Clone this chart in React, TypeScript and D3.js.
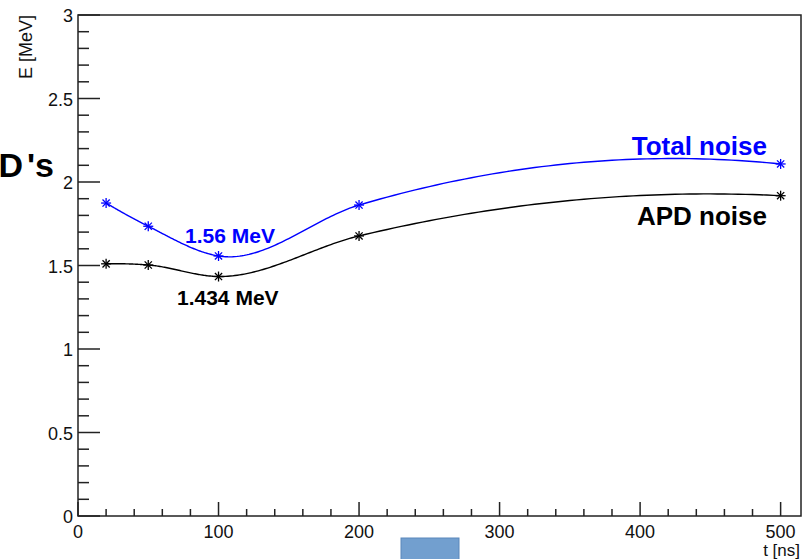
import React from "react";
import * as d3 from "d3";

const times = [20, 50, 100, 200, 500];
const totalNoise = [1.874, 1.735, 1.557, 1.862, 2.108];
const apdNoise = [1.51, 1.503, 1.434, 1.677, 1.918];
const xTickValues = [0, 100, 200, 300, 400, 500];
const xTickLabels = ["0", "100", "200", "300", "400", "500"];
const yTickValues = [0, 0.5, 1, 1.5, 2, 2.5, 3];
const yTickLabels = ["0", "0.5", "1", "1.5", "2", "2.5", "3"];
const seriesNames = ["Total noise", "APD noise"];
const minLabels = ["1.56 MeV", "1.434 MeV"];

const W = 803;
const H = 559;
const left = 78;
const right = 801;
const top = 15;
const bottom = 516;
const FONT = "'Liberation Sans', Arial, Helvetica, sans-serif";

// Cubic Hermite interpolation with local parabolic (Bessel) slopes, in data space.
function smoothData(xs: number[], vs: number[], samples = 60): [number, number][] {
  const n = xs.length;
  const h = d3.range(n - 1).map((i) => xs[i + 1] - xs[i]);
  const d = d3.range(n - 1).map((i) => (vs[i + 1] - vs[i]) / h[i]);
  const m: number[] = new Array(n).fill(0);
  m[0] = d[0] - ((d[1] - d[0]) * h[0]) / (h[0] + h[1]);
  m[n - 1] = d[n - 2] + ((d[n - 2] - d[n - 3]) * h[n - 2]) / (h[n - 3] + h[n - 2]);
  for (let i = 1; i < n - 1; i++) {
    m[i] = d[i - 1] + ((d[i] - d[i - 1]) * h[i - 1]) / (h[i - 1] + h[i]);
  }
  const out: [number, number][] = [];
  for (let i = 0; i < n - 1; i++) {
    for (let j = 0; j < samples; j++) {
      const t = j / samples;
      const t2 = t * t, t3 = t2 * t;
      const h00 = 2 * t3 - 3 * t2 + 1, h10 = t3 - 2 * t2 + t, h01 = -2 * t3 + 3 * t2, h11 = t3 - t2;
      out.push([
        xs[i] + t * h[i],
        h00 * vs[i] + h10 * h[i] * m[i] + h01 * vs[i + 1] + h11 * h[i] * m[i + 1],
      ]);
    }
  }
  out.push([xs[n - 1], vs[n - 1]]);
  return out;
}

function Star({ x, y, color }: { x: number; y: number; color: string }) {
  const r = 5;
  const d = 3.6;
  return (
    <g stroke={color} strokeWidth={1.3}>
      <line x1={x - r} y1={y} x2={x + r} y2={y} />
      <line x1={x} y1={y - r} x2={x} y2={y + r} />
      <line x1={x - d} y1={y - d} x2={x + d} y2={y + d} />
      <line x1={x - d} y1={y + d} x2={x + d} y2={y - d} />
    </g>
  );
}

export default function App() {
  const x = d3.scaleLinear().domain([0, 514.5]).range([left, right]);
  const y = d3.scaleLinear().domain([0, 3]).range([bottom, top]);

  const line = d3
    .line<[number, number]>()
    .x((p) => x(p[0]))
    .y((p) => y(p[1]));
  const curvePath = (vals: number[]) => line(smoothData(times, vals)) || "";

  const xMinor = d3.range(0, 501, 20).filter((v) => v % 100 !== 0);
  const yMinor = d3.range(0, 31, 1).map((v) => v / 10).filter((v) => Math.round(v * 10) % 5 !== 0);

  return (
    <svg
      width={W}
      height={H}
      style={{ position: "absolute", left: 0, top: 0, background: "#fff" }}
      fontFamily={FONT}
    >
      <rect x={0} y={0} width={W} height={H} fill="#fff" />
      <rect x={left} y={top} width={right - left} height={bottom - top} fill="none" stroke="#222" strokeWidth={1.5} />

      {yTickValues.map((v) => (
        <line key={"yt" + v} x1={left} x2={left + 22} y1={y(v)} y2={y(v)} stroke="#222" strokeWidth={1.5} />
      ))}
      {yMinor.map((v) => (
        <line key={"ym" + v} x1={left} x2={left + 11} y1={y(v)} y2={y(v)} stroke="#222" strokeWidth={1.5} />
      ))}
      {yTickValues.map((v, i) => (
        <text key={"yl" + v} x={left - 5} y={y(v) + 7} textAnchor="end" fontSize={18} fill="#111">
          {yTickLabels[i]}
        </text>
      ))}

      {xTickValues.map((v) => (
        <line key={"xt" + v} x1={x(v)} x2={x(v)} y1={bottom} y2={bottom - 14} stroke="#222" strokeWidth={1.5} />
      ))}
      {xMinor.map((v) => (
        <line key={"xm" + v} x1={x(v)} x2={x(v)} y1={bottom} y2={bottom - 7} stroke="#222" strokeWidth={1.5} />
      ))}
      {xTickValues.map((v, i) => (
        <text key={"xl" + v} x={x(v)} y={bottom + 22} textAnchor="middle" fontSize={18} fill="#111">
          {xTickLabels[i]}
        </text>
      ))}

      <text transform={`translate(32,${top}) rotate(-90)`} textAnchor="end" fontSize={18} fill="#111">
        E [MeV]
      </text>
      <text x={800} y={556} textAnchor="end" fontSize={17} fill="#111">
        t [ns]
      </text>

      <path d={curvePath(totalNoise)} fill="none" stroke="#0000ff" strokeWidth={1.4} />
      <path d={curvePath(apdNoise)} fill="none" stroke="#000" strokeWidth={1.4} />
      {times.map((t, i) => (
        <Star key={"s1" + t} x={x(t)} y={y(totalNoise[i])} color="#0000ff" />
      ))}
      {times.map((t, i) => (
        <Star key={"s2" + t} x={x(t)} y={y(apdNoise[i])} color="#000" />
      ))}

      <text x={767} y={155} textAnchor="end" fontSize={26} fontWeight="bold" fill="#0000ff">
        {seriesNames[0]}
      </text>
      <text x={767} y={225} textAnchor="end" fontSize={26} fontWeight="bold" fill="#000">
        {seriesNames[1]}
      </text>
      <text x={185} y={243} fontSize={21} fontWeight="bold" fill="#0000ff">
        {minLabels[0]}
      </text>
      <text x={177} y={305} fontSize={21} fontWeight="bold" fill="#000">
        {minLabels[1]}
      </text>

      <text x={54} y={177} textAnchor="end" fontSize={34} fontWeight="bold" fill="#000">
        D<tspan dx={4}>'s</tspan>
      </text>

      <rect x={401} y={538} width={58} height={24} fill="#729fcf" stroke="#5b87bb" strokeWidth={1} />
    </svg>
  );
}
